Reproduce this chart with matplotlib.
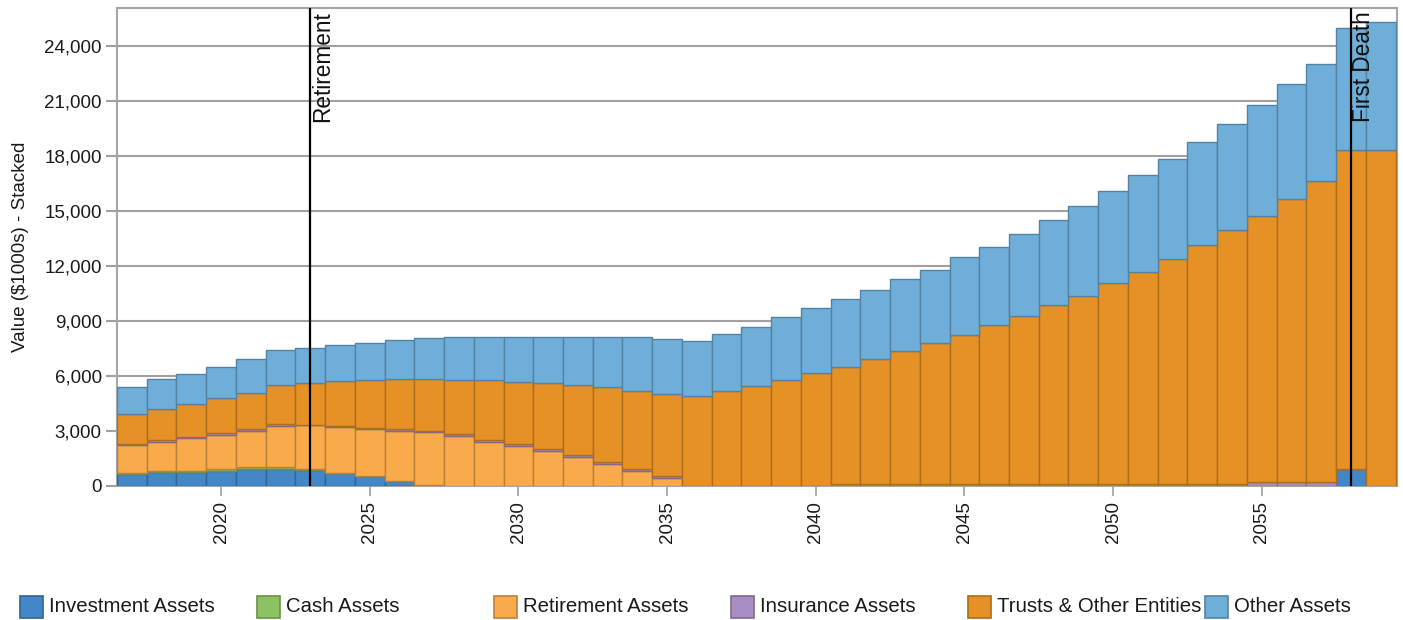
import matplotlib
matplotlib.use("Agg")
import matplotlib.pyplot as plt
from matplotlib.patches import Rectangle
from matplotlib.ticker import FuncFormatter, MultipleLocator
import numpy as np

plt.rcParams['font.family'] = ['Liberation Sans', 'DejaVu Sans']

years = list(range(2017, 2060))

investment = [640, 750, 740, 830, 940, 940, 880, 730, 550, 250, 60,
              0, 0, 0, 0, 0, 0, 0, 0, 0, 0, 0, 0, 0, 0, 0, 0, 0, 0, 0,
              0, 0, 0, 0, 0, 0, 0, 0, 0, 0, 0, 910, 0]
cash = [90, 80, 80, 90, 70, 70, 20, 0, 0, 0, 0,
        0, 0, 0, 0, 0, 0, 0, 0, 0, 0, 0, 0, 0, 0, 0, 0, 0, 0, 0,
        0, 0, 0, 0, 0, 0, 0, 0, 0, 0, 0, 0, 0]
retirement = [1490, 1590, 1770, 1880, 1990, 2270, 2400, 2470, 2560, 2750, 2870,
              2730, 2420, 2200, 1910, 1600, 1220, 820, 420, 0, 0, 0, 0, 0,
              0, 0, 0, 0, 0, 0, 0, 0, 0, 0, 0, 0, 0, 0, 0, 0, 0, 0, 0]
insurance = [90, 100, 100, 90, 90, 80, 20, 80, 70, 90, 90,
             90, 90, 90, 90, 90, 90, 90, 100, 0, 0, 0, 0, 0,
             100, 100, 100, 100, 100, 100, 100, 100, 100, 100, 100, 100, 100, 100,
             220, 220, 220, 0, 0]
trusts = [1590, 1680, 1800, 1890, 1980, 2120, 2270, 2420, 2600, 2730, 2830,
          2960, 3270, 3400, 3600, 3800, 4070, 4290, 4480, 4910, 5180, 5470, 5780, 6180,
          6390, 6810, 7280, 7680, 8150, 8680, 9170, 9770, 10260, 10940, 11540, 12250,
          13050, 13830, 14510, 15420, 16380, 17380, 18290]
other = [1510, 1620, 1640, 1730, 1860, 1940, 1920, 2010, 2040, 2110, 2240,
         2330, 2330, 2420, 2510, 2620, 2730, 2910, 3000, 3000, 3100, 3220, 3420, 3510,
         3690, 3780, 3910, 3980, 4220, 4270, 4470, 4600, 4890, 5020, 5330, 5490,
         5580, 5800, 6060, 6260, 6400, 6670, 6980]

series_names = ["Investment Assets", "Cash Assets", "Retirement Assets",
                "Insurance Assets", "Trusts & Other Entities", "Other Assets"]
series_values = [investment, cash, retirement, insurance, trusts, other]
colors = ["#4387C7", "#8DC162", "#F9AA4B", "#A98CC4", "#E69126", "#6FAED8"]

events = ["Retirement", "First Death"]
event_years = [2023, 2058]


def darker(c, f=0.75):
    r, g, b = matplotlib.colors.to_rgb(c)
    return (r * f, g * f, b * f)


fig = plt.figure(figsize=(14.03, 6.20), dpi=100)
ax = fig.add_axes([117 / 1403, 1 - 486 / 620, (1397 - 117) / 1403, (486 - 8) / 620])

x = np.array(years)
bottom = np.zeros(len(years))
for name, vals, col in zip(series_names, series_values, colors):
    v = np.array(vals, dtype=float)
    ax.bar(x, v, width=1.0, bottom=bottom, color=col,
           edgecolor=darker(col), linewidth=1.0, zorder=3, label=name)
    bottom += v

ax.set_xlim(2016.5, 2059.55)
ax.set_ylim(0, 26050)

ax.yaxis.set_major_locator(MultipleLocator(3000))
ax.yaxis.set_major_formatter(FuncFormatter(lambda v, p: f"{int(v):,}"))
ax.xaxis.set_major_locator(MultipleLocator(5))
ax.xaxis.set_major_formatter(FuncFormatter(lambda v, p: f"{int(v)}"))
ax.grid(axis='y', color='#A0A0A0', linewidth=1.5, zorder=0)
ax.set_axisbelow(True)

for s in ax.spines.values():
    s.set_color('#A6A6A6')
    s.set_linewidth(1.5)

ax.tick_params(axis='y', length=8, width=1.5, color='#A0A0A0', labelsize=13.5,
               labelcolor='#1a1a1a', pad=3)
ax.tick_params(axis='x', length=7, width=1.2, color='#A0A0A0', labelsize=13.5,
               labelcolor='#1a1a1a', labelrotation=90, pad=4)
ax.set_ylabel("Value ($1000s) - Stacked", fontsize=13.5, color='#1a1a1a', labelpad=11)

for name, yr in zip(events, event_years):
    ax.axvline(yr, color='black', linewidth=1.6, zorder=5)
    ax.text(yr + 0.03, 25880, name, rotation=90, ha='left', va='top',
            fontsize=16.3, color='#111111', zorder=6)

# legend laid out in equal columns across the bottom
for i, (name, col) in enumerate(zip(series_names, colors)):
    left_px = 20 + i * 237
    rect = Rectangle((left_px / 1403, 1 - 618 / 620), 22.5 / 1403, 22 / 620,
                     transform=fig.transFigure, facecolor=col,
                     edgecolor=darker(col), linewidth=1.2)
    fig.add_artist(rect)
    fig.text((left_px + 29) / 1403, 1 - 607 / 620, name, fontsize=14.7,
             va='center', ha='left', color='#1a1a1a')

fig.savefig("out.png", dpi=100)
